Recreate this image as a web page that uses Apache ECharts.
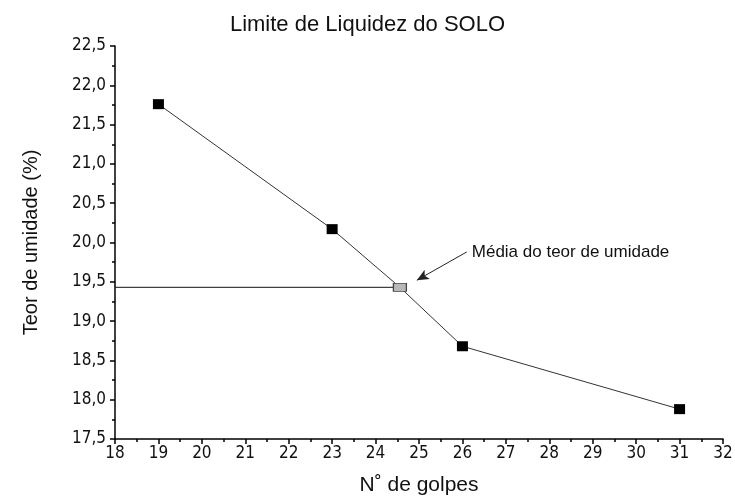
<!DOCTYPE html>
<html>
<head>
<meta charset="utf-8">
<title>Limite de Liquidez do SOLO</title>
<script src="https://cdn.jsdelivr.net/npm/echarts@6/dist/echarts.min.js"></script>
<style>
  html, body { margin: 0; padding: 0; background: #fff; }
  #chart { width: 735px; height: 497px; }
</style>
</head>
<body>
<div id="chart"></div>
<script>
// golpes (x) and teor de umidade (y)
var golpes = [19, 23, 24.56, 26, 31]
var umidade = [21.76, 20.17, 19.43, 18.68, 17.88]
var mediaIndex = 2 // the grey point is the mean

// horizontal guide from the y axis to the mean point
var guideX = [18, 24.56]
var guideY = [19.43, 19.43]

// annotation arrow (start -> tip) and its text
var arrowX = [26.1, 24.95]
var arrowY = [19.88, 19.52]
var arrowText = 'Média do teor de umidade'

var fmt = function (v) { return v.toFixed(1).replace('.', ',') }

var sans = 'Liberation Sans, Arial, sans-serif'
var narrow = 'Liberation Sans Narrow, Arial Narrow, DejaVu Sans Condensed, sans-serif'

var chart = echarts.init(document.getElementById('chart'))

var mainData = golpes.map(function (x, i) {
  if (i === mediaIndex) {
    return {
      value: [x, umidade[i]],
      symbolSize: [13, 8],
      itemStyle: { color: '#b8b8b8', borderColor: '#444', borderWidth: 1 }
    }
  }
  return [x, umidade[i]]
})

chart.setOption({
  animation: false,
  textStyle: { fontFamily: sans },
  title: {
    text: 'Limite de Liquidez do SOLO',
    left: 'center',
    top: 9,
    textStyle: { fontSize: 22, fontWeight: 'normal', color: '#111', fontFamily: sans }
  },
  grid: { left: 115, right: 12, top: 46, bottom: 58, outerBoundsMode: 'none' },
  xAxis: {
    type: 'value',
    min: 18,
    max: 32,
    interval: 1,
    name: 'N˚ de golpes',
    nameLocation: 'middle',
    nameGap: 36,
    nameTextStyle: { fontSize: 21, color: '#111', fontFamily: sans },
    splitLine: { show: false },
    axisLine: { lineStyle: { color: '#000', width: 1.5 } },
    axisTick: { length: 5, lineStyle: { color: '#000', width: 1.5 } },
    minorTick: { show: true, splitNumber: 2, length: 3, lineStyle: { color: '#000', width: 1.5 } },
    axisLabel: { fontSize: 17, color: '#111', margin: 6, fontFamily: narrow }
  },
  yAxis: {
    type: 'value',
    min: 17.5,
    max: 22.5,
    interval: 0.5,
    name: 'Teor de umidade (%)',
    nameLocation: 'middle',
    nameGap: 74,
    nameTextStyle: { fontSize: 20, color: '#111', fontFamily: sans },
    splitLine: { show: false },
    axisLine: { show: true, lineStyle: { color: '#000', width: 1.5 } },
    axisTick: { show: true, length: 5, lineStyle: { color: '#000', width: 1.5 } },
    minorTick: { show: true, splitNumber: 2, length: 3, lineStyle: { color: '#000', width: 1.5 } },
    axisLabel: { fontSize: 17, color: '#111', margin: 9, formatter: fmt, fontFamily: narrow }
  },
  series: [
    {
      name: 'Média',
      type: 'line',
      data: guideX.map(function (x, i) { return [x, guideY[i]] }),
      symbol: 'none',
      lineStyle: { color: '#111', width: 1 },
      z: 1
    },
    {
      name: 'Teor de umidade',
      type: 'line',
      data: mainData,
      symbol: 'rect',
      symbolSize: [11, 10],
      itemStyle: { color: '#000' },
      lineStyle: { color: '#333', width: 1 },
      z: 3,
      markLine: {
        silent: true,
        symbol: ['none', 'arrow'],
        symbolSize: [8, 12],
        lineStyle: { color: '#222', width: 1, type: 'solid' },
        label: { show: false },
        data: [[
          { coord: [arrowX[0], arrowY[0]] },
          { coord: [arrowX[1], arrowY[1]] }
        ]]
      },
      markPoint: {
        silent: true,
        symbol: 'circle',
        symbolSize: 0,
        data: [{
          coord: [arrowX[0], arrowY[0]],
          label: {
            show: true,
            position: 'right',
            distance: 5,
            formatter: arrowText,
            fontSize: 17,
            color: '#111'
          }
        }]
      }
    }
  ]
})
</script>
</body>
</html>
